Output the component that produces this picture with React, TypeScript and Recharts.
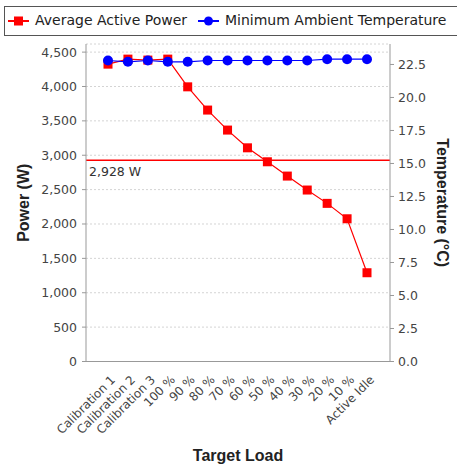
import React from "react";
import {
  LineChart,
  Line,
  XAxis,
  YAxis,
  CartesianGrid,
  ReferenceLine,
} from "recharts";

const loads = [
  "Calibration 1",
  "Calibration 2",
  "Calibration 3",
  "100 %",
  "90 %",
  "80 %",
  "70 %",
  "60 %",
  "50 %",
  "40 %",
  "30 %",
  "20 %",
  "10 %",
  "Active Idle",
];
const avgPower = [4325, 4398, 4384, 4398, 3995, 3657, 3366, 3108, 2905, 2697, 2494, 2300, 2076, 1291];
const minTemp = [22.8, 22.7, 22.8, 22.7, 22.7, 22.8, 22.8, 22.8, 22.8, 22.8, 22.8, 22.9, 22.9, 22.9];
const powerTicks = [0, 500, 1000, 1500, 2000, 2500, 3000, 3500, 4000, 4500];
const tempTicks = [0, 2.5, 5, 7.5, 10, 12.5, 15, 17.5, 20, 22.5];
const overallAvg = 2928;

const data = loads.map((load, i) => ({ load, power: avgPower[i], temp: minTemp[i] }));

const W = 457;
const H = 467;
const tickFont = "DejaVu Sans";
const titleFont = "Liberation Sans";
const axisGray = "#999";

const SquareDot = (props: any) => {
  const { cx, cy, index } = props;
  if (cx == null || cy == null) return null;
  return <rect key={`sq-${index}`} x={cx - 4.5} y={cy - 4.5} width={9} height={9} fill="#ff0000" />;
};

const CircleDot = (props: any) => {
  const { cx, cy, index } = props;
  if (cx == null || cy == null) return null;
  return <circle key={`ci-${index}`} cx={cx} cy={cy} r={5} fill="#0000ff" />;
};

// category labels, turned 45 degrees and ending just right of the point
const LoadTick = (props: any) => {
  const { x, y, payload } = props;
  return (
    <g transform={`translate(${x + 8},${y + 11})`}>
      <text transform="rotate(-45)" textAnchor="end" fontSize={12} fontFamily={tickFont} fill="#444">
        {payload.value}
      </text>
    </g>
  );
};

function Legend() {
  return (
    <div
      style={{
        position: "absolute",
        left: 4,
        top: 6,
        width: 470,
        height: 30,
        border: "1px solid #555",
        boxSizing: "border-box",
        fontFamily: tickFont,
        fontSize: 14,
        color: "#222",
        whiteSpace: "nowrap",
        background: "#fff",
      }}
    >
      <svg width={24} height={12} style={{ position: "absolute", left: 3, top: 8 }}>
        <line x1={0} y1={6} x2={21} y2={6} stroke="#ff0000" strokeWidth={2} />
        <rect x={6} y={1.5} width={9} height={9} fill="#ff0000" />
      </svg>
      <span style={{ position: "absolute", left: 30, top: 5 }}>Average Active Power</span>
      <svg width={24} height={12} style={{ position: "absolute", left: 193, top: 8 }}>
        <line x1={0} y1={6} x2={21} y2={6} stroke="#0000ff" strokeWidth={2} />
        <circle cx={10.5} cy={6} r={4.5} fill="#0000ff" />
      </svg>
      <span style={{ position: "absolute", left: 220, top: 5 }}>Minimum Ambient Temperature</span>
    </div>
  );
}

export default function App() {
  return (
    <div style={{ position: "absolute", left: 0, top: 0, width: W, height: H, background: "#fff", overflow: "hidden" }}>
      <Legend />
      <LineChart width={W} height={H} data={data} margin={{ top: 44, right: 0, bottom: 45.5, left: 0 }}>
        <CartesianGrid yAxisId="left" xAxisId="bottom" vertical={false} stroke="#d4d4d4" strokeDasharray="2 2" />
        <XAxis
          xAxisId="top"
          orientation="top"
          dataKey="load"
          height={0}
          tick={false}
          tickLine={false}
          axisLine={{ stroke: axisGray }}
        />
        <XAxis
          xAxisId="bottom"
          dataKey="load"
          height={60}
          padding={{ left: 22, right: 23 }}
          interval={0}
          tickLine={false}
          axisLine={{ stroke: axisGray }}
          tick={<LoadTick />}
          label={({ viewBox }: any) => (
            <text
              x={viewBox.x + viewBox.width / 2}
              y={461}
              textAnchor="middle"
              fontFamily={titleFont}
              fontWeight="bold"
              fontSize={16}
              fill="#222"
            >
              Target Load
            </text>
          )}
        />
        <YAxis
          yAxisId="left"
          width={86}
          domain={[0, 4618]}
          ticks={powerTicks}
          interval={0}
          tickFormatter={(v: number) => v.toLocaleString("en-US")}
          tick={{ fontSize: 12.5, fontFamily: tickFont, fill: "#444" }}
          tickSize={4}
          tickMargin={5}
          axisLine={{ stroke: axisGray }}
          tickLine={{ stroke: axisGray }}
          label={({ viewBox }: any) => {
            const cx = 23;
            const cy = viewBox.y + viewBox.height / 2;
            return (
              <text
                x={cx}
                y={cy}
                transform={`rotate(-90 ${cx} ${cy})`}
                textAnchor="middle"
                dominantBaseline="central"
                fontFamily={titleFont}
                fontWeight="bold"
                fontSize={16}
                fill="#222"
              >
                Power (W)
              </text>
            );
          }}
        />
        <YAxis
          yAxisId="right"
          orientation="right"
          width={67}
          domain={[0, 24.05]}
          ticks={tempTicks}
          interval={0}
          tickFormatter={(v: number) => v.toFixed(1)}
          tick={{ fontSize: 12.5, fontFamily: tickFont, fill: "#444" }}
          tickSize={4}
          tickMargin={4}
          axisLine={{ stroke: axisGray }}
          tickLine={{ stroke: axisGray }}
          label={({ viewBox }: any) => {
            const cx = 442;
            const cy = viewBox.y + viewBox.height / 2;
            return (
              <text
                x={cx}
                y={cy}
                transform={`rotate(90 ${cx} ${cy})`}
                textAnchor="middle"
                dominantBaseline="central"
                fontFamily={titleFont}
                fontWeight="bold"
                fontSize={16}
                fill="#222"
              >
                Temperature (°C)
              </text>
            );
          }}
        />
        <ReferenceLine
          yAxisId="left"
          xAxisId="bottom"
          y={overallAvg}
          stroke="#ff0000"
          strokeWidth={1.5}
          label={({ viewBox }: any) => (
            <text x={viewBox.x + 3} y={viewBox.y + 16} fontSize={12.5} fontFamily={tickFont} fill="#333">
              {`${overallAvg.toLocaleString("en-US")} W`}
            </text>
          )}
        />
        <Line
          yAxisId="left"
          xAxisId="bottom"
          dataKey="power"
          stroke="#ff0000"
          strokeWidth={1.2}
          dot={<SquareDot />}
          activeDot={false}
          isAnimationActive={false}
        />
        <Line
          yAxisId="right"
          xAxisId="bottom"
          dataKey="temp"
          stroke="#0000ff"
          strokeWidth={1.2}
          dot={<CircleDot />}
          activeDot={false}
          isAnimationActive={false}
        />
      </LineChart>
    </div>
  );
}
